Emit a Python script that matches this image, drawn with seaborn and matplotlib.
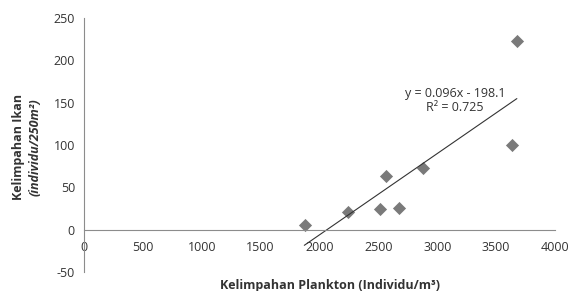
import numpy as np
import pandas as pd
import seaborn as sns
import matplotlib.pyplot as plt

# data
plankton = [1876, 2241, 2513, 2561, 2674, 2878, 3633, 3676]
ikan = [6, 21, 24, 63, 26, 73, 100, 223]
slope = 0.096
intercept = -198.1
r2 = 0.725
x_ticks = [0, 500, 1000, 1500, 2000, 2500, 3000, 3500, 4000]
y_ticks = [-50, 0, 50, 100, 150, 200, 250]

df = pd.DataFrame({"plankton": plankton, "ikan": ikan})

sns.set_style("white")
plt.rcParams["font.family"] = ["Open Sans", "DejaVu Sans"]
plt.rcParams["axes.unicode_minus"] = False

fig = plt.figure(figsize=(5.7, 2.91), dpi=100)
ax = fig.add_axes([84 / 570, 1 - 272 / 291, (555 - 84) / 570, (272 - 18) / 291])

sns.scatterplot(data=df, x="plankton", y="ikan", marker="D", s=45,
                color="#7a7a7a", edgecolor="#7a7a7a", linewidth=0, ax=ax)

# trendline from the equation shown on the chart
xs = np.array([min(plankton) - 5, max(plankton)])
ax.plot(xs, slope * xs + intercept, color="#333333", lw=0.8)

ax.text(3150, 153, f"y = {slope:.3f}x - {abs(intercept):.1f}\nR² = {r2:.3f}",
        ha="center", va="center", fontsize=9, color="#333333",
        linespacing=1.1)

ax.set_xlim(0, 4000)
ax.set_ylim(-50, 250)
ax.set_xticks(x_ticks)
ax.set_yticks(y_ticks)
ax.set_xlabel("")
ax.set_ylabel("")

for side in ["top", "right"]:
    ax.spines[side].set_visible(False)
ax.spines["bottom"].set_position(("data", 0))
for side in ["left", "bottom"]:
    ax.spines[side].set_color("#8c8c8c")
    ax.spines[side].set_linewidth(0.8)
ax.tick_params(axis="both", direction="out", length=3, width=0.8,
               color="#8c8c8c", labelsize=9, labelcolor="#333333")
ax.tick_params(axis="x", pad=5)

fig.text(330 / 570, 1 - 285 / 291, "Kelimpahan Plankton (Individu/m³)",
         ha="center", va="center", fontsize=9, fontweight="bold", color="#333333")
fig.text(19 / 570, 1 - 147 / 291, "Kelimpahan Ikan", rotation=90,
         ha="center", va="center", fontsize=9, fontweight="bold", color="#333333")
fig.text(35 / 570, 1 - 147 / 291, "(individu/250m²)", rotation=90,
         ha="center", va="center", fontsize=9, fontweight="bold",
         fontstyle="italic", color="#333333")

fig.savefig("out.png", dpi=100)
